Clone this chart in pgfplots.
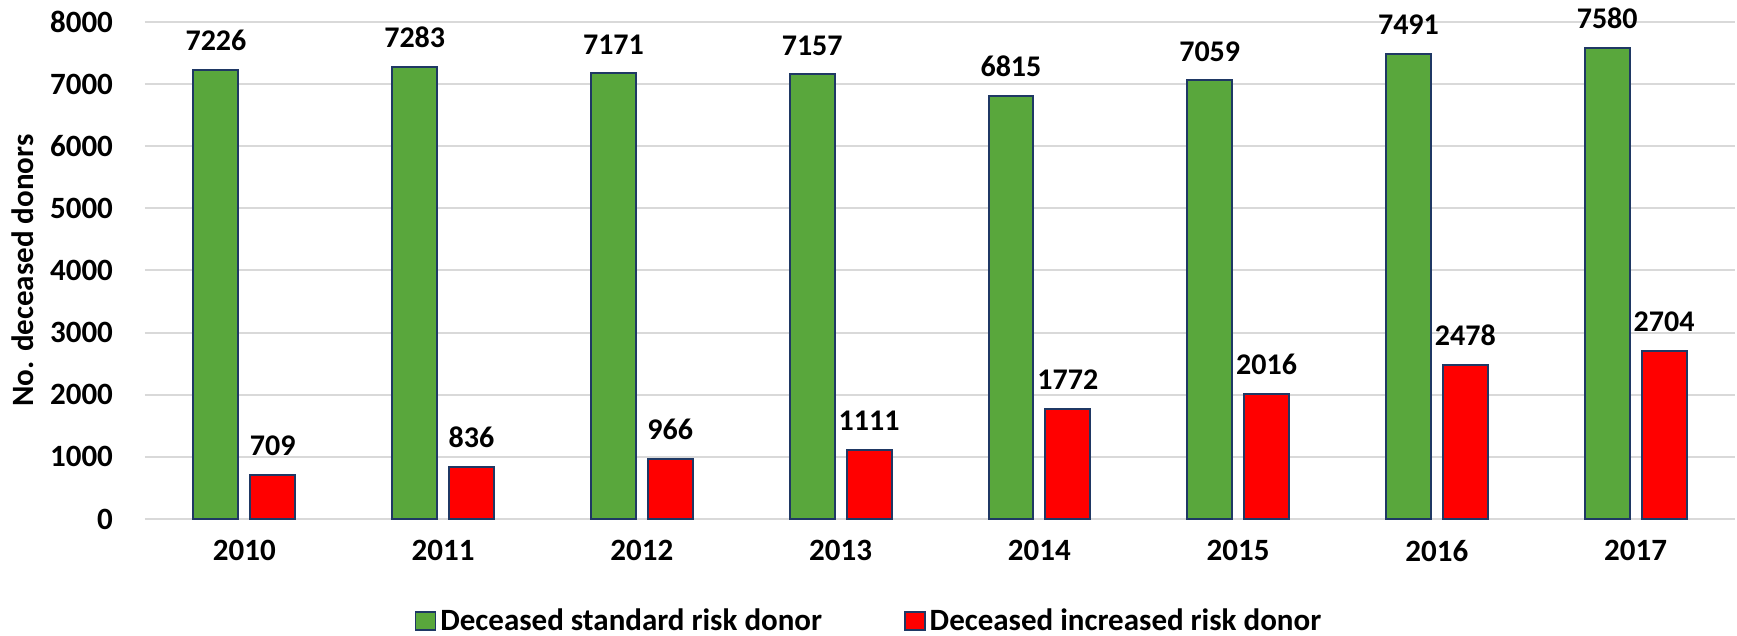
\documentclass[border=0pt]{standalone}
\usepackage{pgfplots}
\pgfplotsset{compat=1.18}
\usepackage{fontspec}
\setmainfont{Carlito}
\definecolor{bargreen}{HTML}{59A73C}
\definecolor{barred}{HTML}{FF0000}
\definecolor{baredge}{HTML}{1F3864}
\definecolor{gridgray}{HTML}{D9D9D9}
\begin{document}
\begin{tikzpicture}
\begin{axis}[
  scale only axis,
  width=795pt, height=248.5pt,
  ymin=0, ymax=8000, ytick distance=1000,
  xmin=-0.5, xmax=7.5,
  xtick={0,1,2,3,4,5,6,7},
  xticklabels={2010,2011,2012,2013,2014,2015,2016,2017},
  enlarge x limits=false, enlarge y limits=false,
  axis line style={draw=none},
  major tick length=0pt,
  ymajorgrids, xmajorgrids=false,
  grid style={draw=gridgray, line width=1pt},
  /pgf/number format/assume math mode=true,
  /pgf/number format/1000 sep={},
  ticklabel style={font=\fontsize{15.5}{18}\selectfont\bfseries},
  yticklabel style={xshift=-12.5pt},
  xticklabel style={yshift=-7pt},
  ylabel={No. deceased donors},
  every axis y label/.style={at={(axis description cs:-0.0767,0.5)}, anchor=center, rotate=90, font=\fontsize{15.5}{18}\selectfont\bfseries},
  ybar,
  bar width=0.226,
  clip=false,
  nodes near coords,
  every node near coord/.append style={font=\fontsize{15}{17}\selectfont\bfseries, anchor=south, inner sep=0pt, yshift=9pt, text=black},
  legend columns=2,
  legend style={draw=none, at={(0.456,0)}, anchor=center, yshift=-51pt,
    font=\fontsize{15.5}{18}\selectfont\bfseries,
    /tikz/every even column/.append style={column sep=39pt},
    /tikz/every odd column/.append style={column sep=0pt}},
  legend image code/.code={\draw[#1, line width=0.8pt] (0pt,-4.5pt) rectangle (10pt,4.5pt);},
]
\addplot[fill=bargreen, draw=baredge, line width=1pt, bar shift=-0.143] coordinates {
(0,7226) (1,7283) (2,7171) (3,7157) (4,6815) (5,7059) (6,7491) (7,7580)};
\addlegendentry{Deceased standard risk donor}
\addplot[fill=barred, draw=baredge, line width=1pt, bar shift=0.143] coordinates {
(0,709) (1,836) (2,966) (3,1111) (4,1772) (5,2016) (6,2478) (7,2704)};
\addlegendentry{Deceased increased risk donor}
\coordinate (bl) at (rel axis cs:0,0);
\coordinate (tr) at (rel axis cs:1,1);
\end{axis}
\pgfresetboundingbox
\path[use as bounding box] ([xshift=-72.5pt,yshift=-58.5pt]bl) rectangle ([xshift=1pt,yshift=11pt]tr);
\end{tikzpicture}
\end{document}
